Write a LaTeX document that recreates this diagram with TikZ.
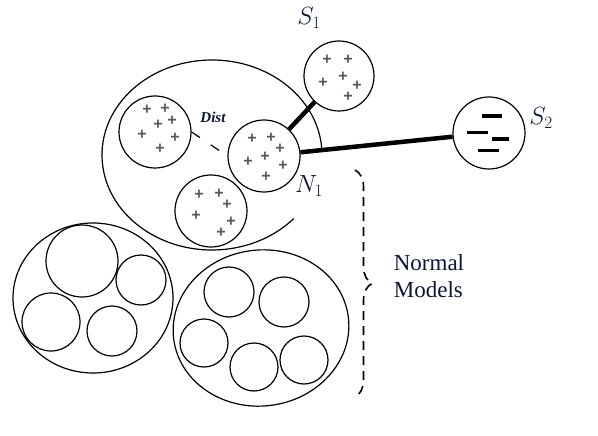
\documentclass[tikz,border=0pt]{standalone}
\usepackage{fontspec}
\setmainfont{Liberation Serif}
\newfontfamily\plusfont{Liberation Sans}
\usetikzlibrary{decorations.pathreplacing}
\definecolor{labelnavy}{RGB}{10,22,55}

\begin{document}
\begin{tikzpicture}[x=1pt,y=-1pt,
    cluster/.style={draw,circle,line width=1.2pt,inner sep=0pt,minimum size=72pt},
    model/.style={draw,circle,line width=1.2pt,inner sep=0pt},
    plus/.style={text=black!65,inner sep=0pt,font=\plusfont\bfseries\fontsize{16}{16}\selectfont},
    link/.style={line width=4.5pt},
    lbl/.style={text=labelnavy,inner sep=0pt}]
    \useasboundingbox (0,0) rectangle (598,436);

    % clusters round the new point
    \node[cluster] (ca) at (155,132) {};
    \node[cluster] (n1) at (264,156) {};
    \node[cluster] (cc) at (211,211) {};
    \node[cluster,minimum size=70pt] (s1) at (339,76) {};
    \node[cluster] (s2) at (489,133) {};
    \coordinate (grp) at (212,155);
    \draw[line width=1.2pt] ([shift={(4:110pt and 95pt)}]grp) arc[start angle=4,end angle=318,x radius=110pt,y radius=95pt];

    \foreach \p in {(147,110),(165,109),(158,125),(172,121),(142,135),(175,138),(160,149),
                    (252,139),(271,138),(280,149),(265,157),(248,162),(283,166),(266,177),
                    (199,195),(219,194),(227,205),(196,216),(231,222),(221,233),
                    (327,60),(348,60),(343,77),(323,83),(357,86),(348,97)}
        \node[plus] at \p {+};
    \foreach \xa/\xb/\y in {481.7/501.7/116,466.7/488.3/132.3,491.7/509.3/139,478.3/499.3/150.7}
        \draw[line width=3.5pt] (\xa,\y) -- (\xb,\y);

    \draw[line width=1.2pt,dash pattern=on 10pt off 13pt,shorten >=9pt] (ca.east) -- (n1.west);
    \draw[link] (n1) -- (s1);
    \draw[link] (n1) -- (s2);

    % normal models
    \coordinate (ml) at (93,298);
    \draw[line width=1.2pt] (ml) ellipse[x radius=80pt,y radius=75pt];
    \node[model,minimum size=72pt] (ml1) at (82,261) {};
    \node[model,minimum size=50pt] (ml2) at (141,280) {};
    \node[model,minimum size=58pt] (ml3) at (51,322) {};
    \node[model,minimum size=50pt] (ml4) at (112,331) {};
    \coordinate (mr) at (261,328);
    \draw[line width=1.2pt,rotate around={7:(mr)}] (mr) ellipse[x radius=88pt,y radius=78pt];
    \node[model,minimum size=50pt] (mr1) at (229,292) {};
    \node[model,minimum size=50pt] (mr2) at (284,302) {};
    \node[model,minimum size=48pt] (mr3) at (204,343) {};
    \node[model,minimum size=48pt] (mr4) at (254,367) {};
    \node[model,minimum size=48pt] (mr5) at (304,360) {};

    \coordinate (brtop) at (355,170);
    \coordinate (brbot) at (355,397);
    \draw[line width=1.6pt,dash pattern=on 9pt off 6pt,decorate,decoration={brace,amplitude=17pt}] (brtop) -- (brbot);

    % labels
    \node[lbl,font=\fontsize{25}{28}\selectfont] (s1lbl) at (309,18) {$S_1$};
    \node[lbl,font=\fontsize{25}{28}\selectfont] (s2lbl) at (541,118) {$S_2$};
    \node[lbl,font=\fontsize{25}{28}\selectfont] (n1lbl) at (309,186) {$N_1$};
    \node[lbl,font=\fontsize{15}{17}\selectfont\bfseries\itshape] (distlbl) at (213,117) {Dist};
    \node[lbl,font=\fontsize{23}{27}\selectfont,align=left] (normlbl) at (429,276) {Normal\\Models};
\end{tikzpicture}
\end{document}
